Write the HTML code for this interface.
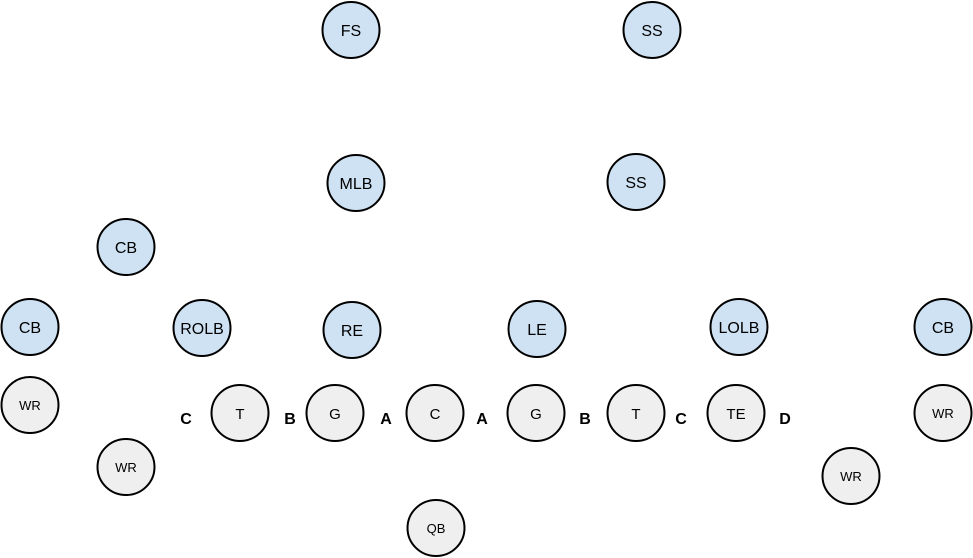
<!DOCTYPE html>
<html><head><style>body{margin:0;background:#fff}svg{display:block}</style></head><body>
<svg width="973" height="558" viewBox="0 0 973 558" xmlns="http://www.w3.org/2000/svg" font-family="'Liberation Sans Narrow','Liberation Sans',sans-serif">
<g stroke="#000" stroke-width="2" fill="#cfe2f3">
<ellipse cx="351" cy="30" rx="28.5" ry="28"/>
<ellipse cx="652" cy="30" rx="28.5" ry="28"/>
<ellipse cx="356" cy="183" rx="28.5" ry="28"/>
<ellipse cx="636" cy="182" rx="28.5" ry="28"/>
<ellipse cx="126" cy="247" rx="28.5" ry="28"/>
<ellipse cx="30" cy="327" rx="28.5" ry="28"/>
<ellipse cx="202" cy="328" rx="28.5" ry="28"/>
<ellipse cx="352" cy="330" rx="28.5" ry="28"/>
<ellipse cx="537" cy="329" rx="28.5" ry="28"/>
<ellipse cx="739" cy="327" rx="28.5" ry="28"/>
<ellipse cx="943" cy="327" rx="28.5" ry="28"/>
</g>
<g stroke="#000" stroke-width="2" fill="#efefef">
<ellipse cx="30" cy="405" rx="28.5" ry="28"/>
<ellipse cx="126" cy="467" rx="28.5" ry="28"/>
<ellipse cx="240" cy="413" rx="28.5" ry="28"/>
<ellipse cx="335" cy="413" rx="28.5" ry="28"/>
<ellipse cx="435" cy="413" rx="28.5" ry="28"/>
<ellipse cx="536" cy="413" rx="28.5" ry="28"/>
<ellipse cx="636" cy="413" rx="28.5" ry="28"/>
<ellipse cx="736" cy="413" rx="28.5" ry="28"/>
<ellipse cx="943" cy="413" rx="28.5" ry="28"/>
<ellipse cx="851" cy="476" rx="28.5" ry="28"/>
<ellipse cx="436" cy="528" rx="28.5" ry="28"/>
</g>
<g text-anchor="middle" font-size="16" fill="#000">
<text x="351" y="36">FS</text><text x="652" y="36">SS</text>
<text x="356" y="189">MLB</text><text x="636" y="188">SS</text>
<text x="126" y="253">CB</text><text x="30" y="333">CB</text>
<text x="202" y="334">ROLB</text><text x="352" y="336">RE</text>
<text x="537" y="335">LE</text><text x="739" y="333">LOLB</text>
<text x="943" y="333">CB</text>
</g>
<g text-anchor="middle" font-size="15" fill="#000">
<text x="240" y="419">T</text><text x="335" y="419">G</text><text x="435" y="419">C</text>
<text x="536" y="419">G</text><text x="636" y="419">T</text><text x="736" y="419">TE</text>
</g>
<g text-anchor="middle" font-size="13" fill="#000">
<text x="30" y="410">WR</text><text x="126" y="472">WR</text><text x="943" y="418">WR</text>
<text x="851" y="481">WR</text><text x="436" y="533">QB</text>
</g>
<g text-anchor="middle" font-size="16" font-weight="bold" fill="#000">
<text x="186" y="424">C</text><text x="290" y="424">B</text><text x="386" y="424">A</text>
<text x="482" y="424">A</text><text x="585" y="424">B</text><text x="681" y="424">C</text>
<text x="785" y="424">D</text>
</g>
</svg>
</body></html>
